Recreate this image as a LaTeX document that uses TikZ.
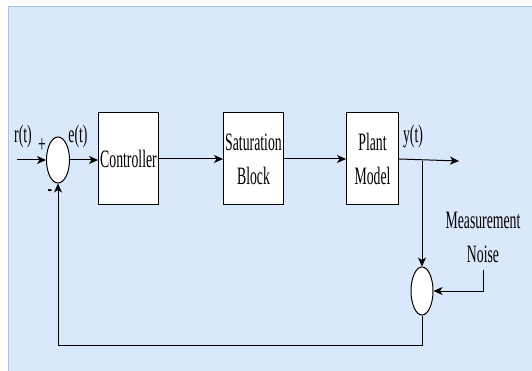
\documentclass[tikz,border=0pt]{standalone}
\usepackage{fontspec}
\setmainfont{Liberation Serif}[FakeStretch=0.55]
\usepackage{tikz}
\usetikzlibrary{arrows.meta,positioning,shapes.geometric}
\definecolor{panelblue}{RGB}{218,232,252}
\definecolor{panelline}{RGB}{168,192,228}
\newcommand{\blockfont}{\fontsize{25pt}{34pt}\selectfont}

\begin{document}
\begin{tikzpicture}[x=1pt,y=-1pt, node distance=28pt,
  every node/.style={font=\blockfont,align=center,inner sep=0pt},
  block/.style={draw,fill=white,line width=1pt,minimum width=60pt,minimum height=92pt},
  sumnode/.style={draw,ellipse,fill=white,line width=1pt,minimum width=23pt,minimum height=46pt},
  sig/.style={line width=1pt,-{Stealth[length=9pt,width=8pt,inset=2.5pt]}}]
\useasboundingbox (0,0) rectangle (532,371);
\filldraw[fill=panelblue,draw=panelline,line width=1pt] (8,7) rectangle (545,385);
% loop
\node[sumnode] (s1) at (58,160) {};
\node[block,right=28pt of s1,yshift=1pt] (ctrl) {Controller};
\node[block,right=64pt of ctrl] (sat) {Saturation\\Block};
\node[block,minimum width=52pt,right=62pt of sat] (plant) {Plant\\Model};
\node[sumnode,minimum width=22pt,minimum height=48pt] (s2) at (422,291) {};
\node[inner ysep=7pt] (noise) at (483,237) {Measurement\\Noise};
\coordinate (rin) at (17,160);
\coordinate (yout) at (459,161);
\coordinate (tap) at (422,161);
\coordinate (fb) at (58,345);
% labels
\node at (23,136) {r(t)};
\node at (42,145) {+};
\node at (50,193) {-};
\node at (78,136) {e(t)};
\node at (413,137) {y(t)};
% signals
\draw[sig] (rin) -- (s1);
\draw[sig] (s1) -- (s1 -| ctrl.west);
\draw[sig] (ctrl.east) -- (ctrl.east -| sat.west);
\draw[sig] (sat) -- (plant);
\draw[sig] (plant.east) -- (yout);
\draw[sig] (tap) -- (s2);
\draw[sig] (noise.south) |- (s2);
\draw[sig] (s2.south) |- (fb) -- (s1.south);
\end{tikzpicture}
\end{document}
